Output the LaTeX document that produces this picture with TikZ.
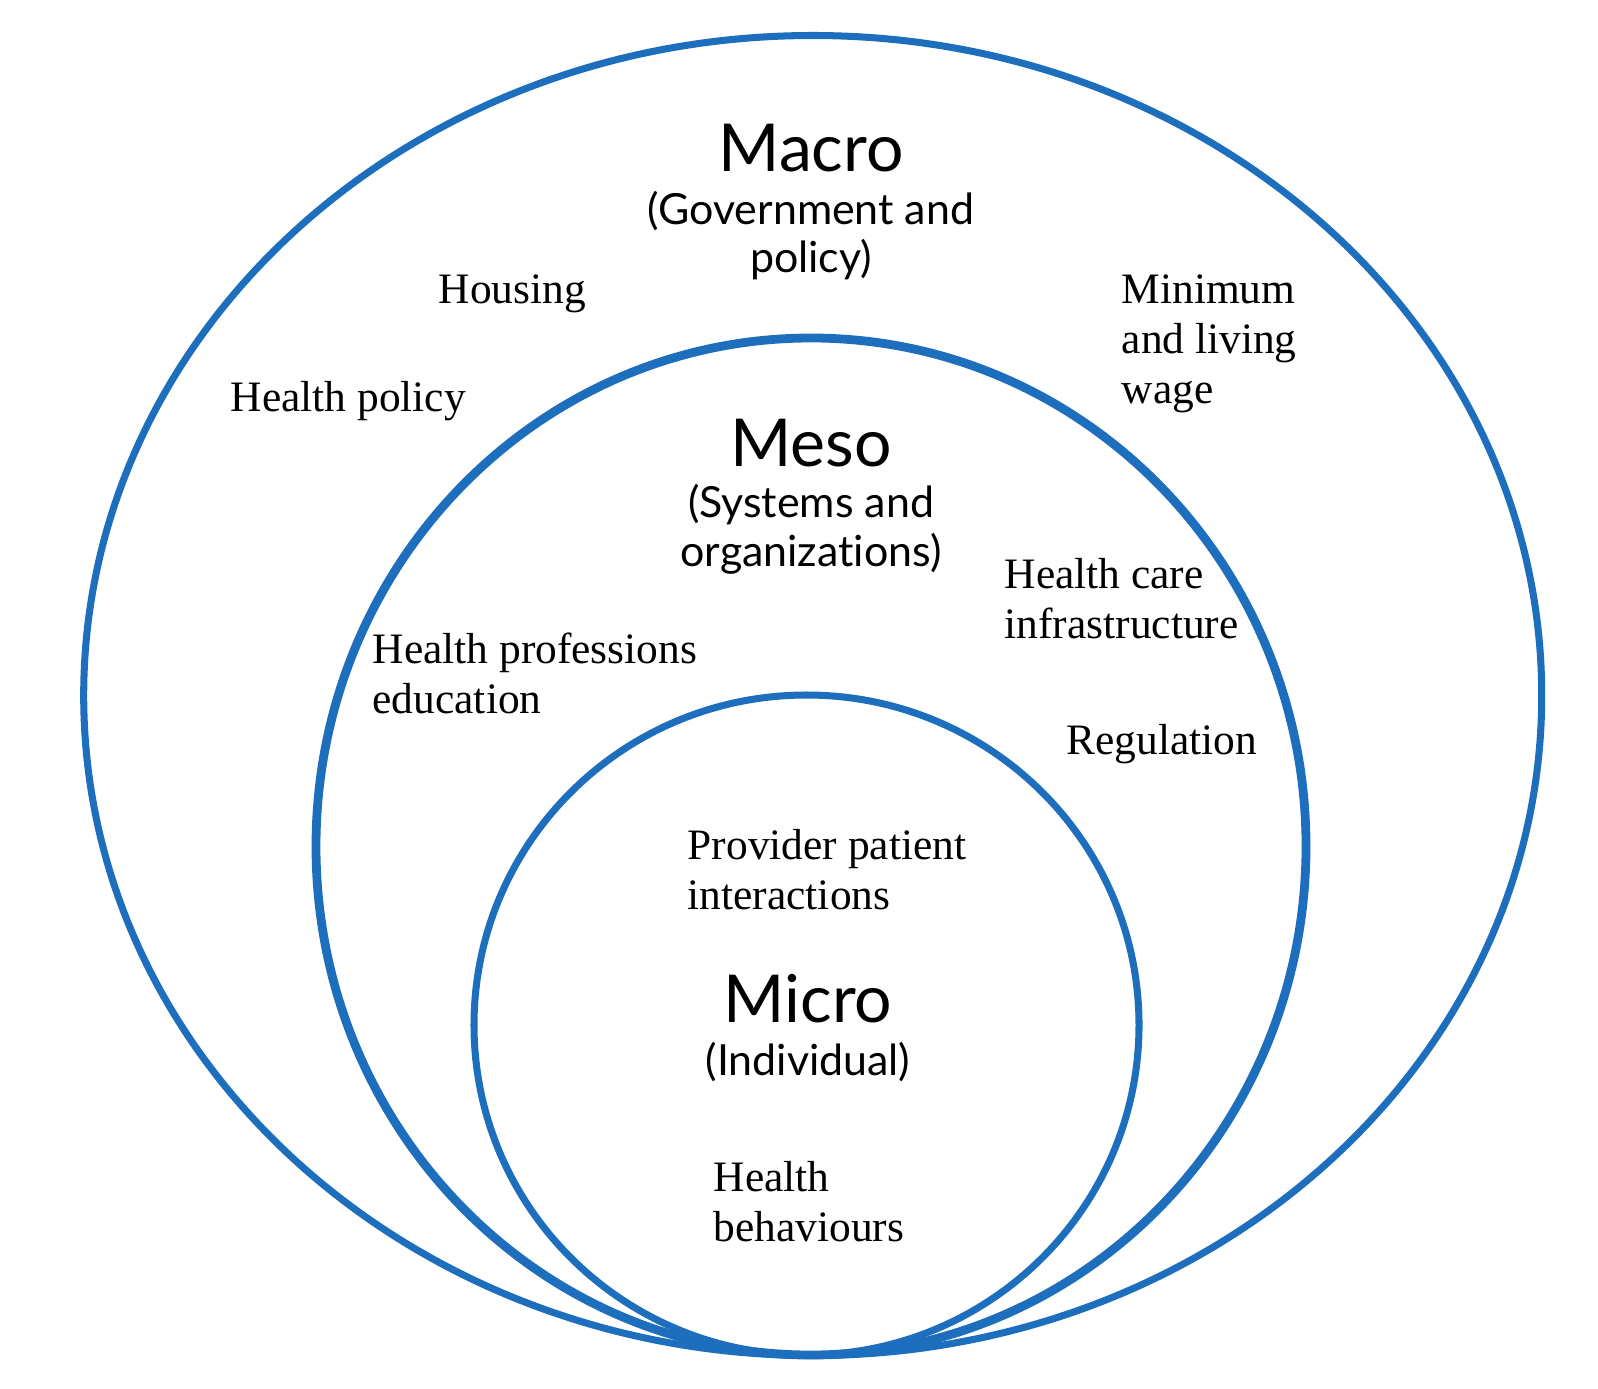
\documentclass[tikz,border=0pt]{standalone}
\usepackage{fontspec}
\setmainfont{Liberation Serif}
\newfontfamily\levelfont[Ligatures={CommonOff,ContextualOff}]{Lato}
\usepackage{xcolor}
\definecolor{ringblue}{RGB}{30,110,190}

\begin{document}
\begin{tikzpicture}[x=0.01cm,y=-0.01cm,
  ring/.style={draw=ringblue,line width=2pt},
  level/.style={font=\levelfont\fontsize{18.8}{22}\selectfont,inner sep=0pt},
  scope/.style={font=\levelfont\fontsize{12.2}{13.9}\selectfont,align=center,inner sep=0pt},
  factor/.style={font=\fontsize{12.35}{14.2}\selectfont,align=left,anchor=west,inner sep=0pt}]
\fill[white] (0,0) rectangle (1598,1388);
\draw[ring] (812.7,695.5) ellipse [x radius=729,y radius=660];
\draw[ring,line width=2.5pt] (811,846.5) ellipse [x radius=495,y radius=508.5];
\draw[ring] (806.5,1025) ellipse [x radius=332.5,y radius=330];
\node[level] (macro) at (811,148) {Macro};
\node[scope] (macroscope) at (811,235.5) {(Government and\\policy)};
\node[level] (meso) at (811,443) {Meso};
\node[scope] (mesoscope) at (811,529) {(Systems and\\organizations)};
\node[level] (micro) at (808,999) {Micro};
\node[scope] (microscope) at (808,1062) {(Individual)};
\node[factor] (housing) at (438,293.5) {Housing};
\node[factor] (policy) at (230,401.5) {Health policy};
\node[factor] (wage) at (1121,343.5) {Minimum\\and living\\wage};
\node[factor] (infra) at (1004,598.5) {Health care\\infrastructure};
\node[factor] (education) at (372,673.5) {Health professions\\education};
\node[factor] (regulation) at (1066,744) {Regulation};
\node[factor] (interactions) at (687,870) {Provider patient\\interactions};
\node[factor] (behaviours) at (713,1202) {Health\\behaviours};
\end{tikzpicture}
\end{document}
